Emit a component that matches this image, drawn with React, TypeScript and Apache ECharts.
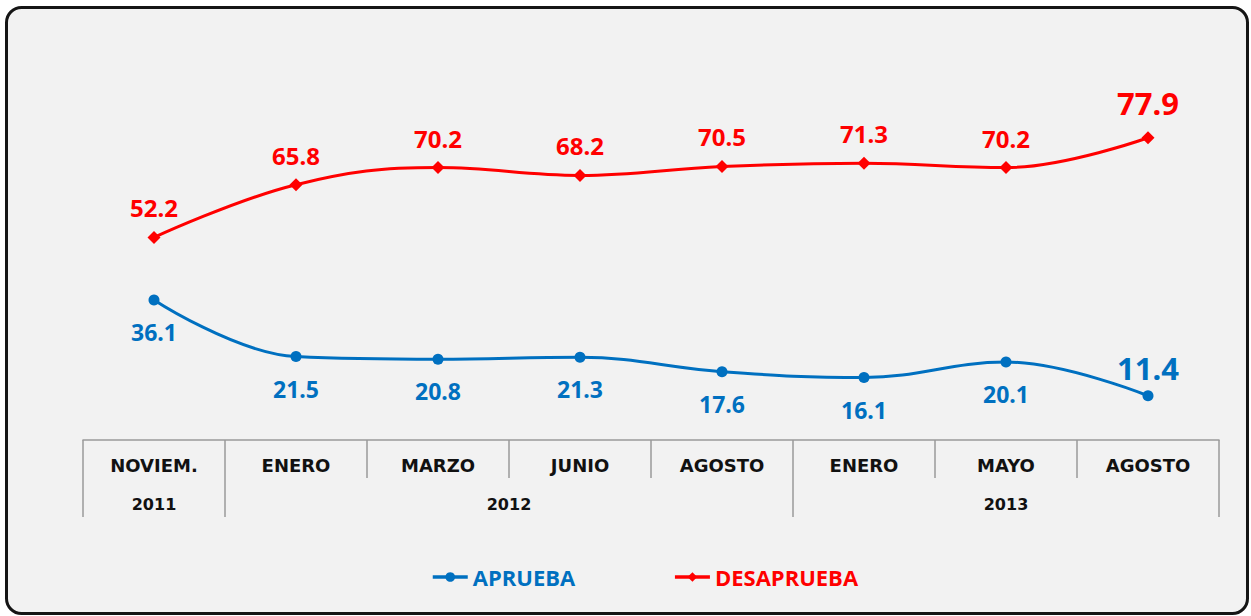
import React, { useEffect, useRef } from "react";
import * as echarts from "echarts";

const months = ["NOVIEM.", "ENERO", "MARZO", "JUNIO", "AGOSTO", "ENERO", "MAYO", "AGOSTO"];
const years = ["2011", "2012", "2012", "2012", "2012", "2013", "2013", "2013"];
const aprueba = [36.1, 21.5, 20.8, 21.3, 17.6, 16.1, 20.1, 11.4];
const desaprueba = [52.2, 65.8, 70.2, 68.2, 70.5, 71.3, 70.2, 77.9];

const BLUE = "#0070C0";
const RED = "#FF0000";
const GRID_LINE = "#9a9a9a";

export default function App() {
  const ref = useRef<HTMLDivElement>(null);

  useEffect(() => {
    if (!ref.current) return;
    const chart = echarts.init(ref.current, undefined, { renderer: "svg" });
    const last = months.length - 1;

    const blueData = aprueba.map((v, i) =>
      i === last
        ? { value: v, label: { position: "top", fontSize: 31, distance: 7 } }
        : v
    );
    const redData = desaprueba.map((v, i) =>
      i === last ? { value: v, label: { fontSize: 31, distance: 13 } } : v
    );

    chart.setOption({
      animation: false,
      backgroundColor: "#ffffff",
      grid: { left: 83, right: 32, top: 52, bottom: 176 },
      xAxis: {
        type: "category",
        data: months,
        boundaryGap: true,
        axisLine: { show: true, lineStyle: { color: GRID_LINE, width: 1.5 } },
        axisTick: { show: true, interval: 0, length: 38, lineStyle: { color: GRID_LINE, width: 1.5 } },
        axisLabel: {
          interval: 0,
          margin: 16,
          color: "#111111",
          fontFamily: "DejaVu Sans",
          fontWeight: "bold",
          fontSize: 18,
        },
        splitLine: { show: false },
      },
      yAxis: {
        type: "value",
        min: 0,
        max: 100,
        show: false,
        splitLine: { show: false },
      },
      legend: {
        left: 426,
        top: 561,
        itemWidth: 35,
        itemHeight: 12,
        itemGap: 98,
        lineStyle: { width: 3.5 },
        textStyle: { fontFamily: "Open Sans", fontWeight: "bold", fontSize: 22 },
        data: [
          { name: "APRUEBA", textStyle: { color: BLUE } },
          { name: "DESAPRUEBA", textStyle: { color: RED } },
        ],
      },
      series: [
        {
          name: "APRUEBA",
          type: "line",
          data: blueData,
          smooth: 0.4,
          symbol: "circle",
          symbolSize: 11,
          lineStyle: { color: BLUE, width: 3 },
          itemStyle: { color: BLUE },
          label: {
            show: true,
            position: "bottom",
            distance: 15,
            color: BLUE,
            fontFamily: "Noto Sans",
            fontWeight: "bold",
            fontSize: 23,
          },
          z: 3,
        },
        {
          name: "DESAPRUEBA",
          type: "line",
          data: redData,
          smooth: 0.4,
          symbol: "diamond",
          symbolSize: 13,
          lineStyle: { color: RED, width: 3 },
          itemStyle: { color: RED },
          label: {
            show: true,
            position: "top",
            distance: 11,
            color: RED,
            fontFamily: "Noto Sans",
            fontWeight: "bold",
            fontSize: 24,
          },
          z: 3,
        },
      ],
    });

    const xs = months.map((_, i) => chart.convertToPixel({ xAxisIndex: 0 }, i) as number);
    const step = xs[1] - xs[0];
    const y0 = chart.convertToPixel({ yAxisIndex: 0 }, 0) as number;

    const groups: { year: string; start: number; end: number }[] = [];
    years.forEach((y, i) => {
      const left = xs[i] - step / 2;
      const right = xs[i] + step / 2;
      if (i === 0 || y !== years[i - 1]) groups.push({ year: y, start: left, end: right });
      else groups[groups.length - 1].end = right;
    });

    const graphics: any[] = [
      {
        type: "rect",
        z: -10,
        silent: true,
        shape: { x: 6.5, y: 7.5, width: 1241, height: 606, r: 15 },
        style: { fill: "#f2f2f2", stroke: "#151515", lineWidth: 3 },
      },
    ];
    const bounds: number[] = [];
    groups.forEach((g, gi) => {
      if (gi === 0) bounds.push(g.start);
      bounds.push(g.end);
      graphics.push({
        type: "text",
        x: (g.start + g.end) / 2,
        y: y0 + 64,
        silent: true,
        style: {
          text: g.year,
          fill: "#111111",
          font: "bold 16px 'DejaVu Sans'",
          textAlign: "center",
          textVerticalAlign: "middle",
        },
      });
    });
    bounds.forEach((b) => {
      graphics.push({
        type: "line",
        silent: true,
        shape: { x1: b, y1: y0 + 38, x2: b, y2: y0 + 77 },
        style: { stroke: GRID_LINE, lineWidth: 1.5 },
      });
    });
    chart.setOption({ graphic: graphics });

    return () => chart.dispose();
  }, []);

  return (
    <div
      ref={ref}
      style={{ position: "fixed", left: 0, top: 0, width: 1251, height: 616 }}
    />
  );
}
